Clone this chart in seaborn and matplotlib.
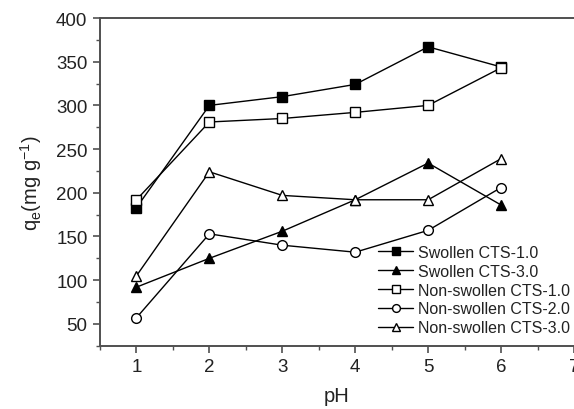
import matplotlib
matplotlib.use("Agg")
import matplotlib.pyplot as plt
import seaborn as sns
import pandas as pd
from matplotlib.ticker import MultipleLocator

sns.set_style("ticks")
plt.rcParams['font.family'] = ['Liberation Sans', 'DejaVu Sans']
plt.rcParams['mathtext.fontset'] = 'custom'
plt.rcParams['mathtext.rm'] = 'Liberation Sans'

ph = [1, 2, 3, 4, 5, 6]
swollen_cts_10 = [183, 300, 310, 324, 367, 344]
swollen_cts_30 = [92, 125, 156, 192, 234, 186]
nonswollen_cts_10 = [192, 281, 285, 292, 300, 343]
nonswollen_cts_20 = [57, 153, 140, 132, 157, 206]
nonswollen_cts_30 = [105, 224, 197, 192, 192, 239]

series_names = ["Swollen CTS-1.0", "Swollen CTS-3.0", "Non-swollen CTS-1.0",
                "Non-swollen CTS-2.0", "Non-swollen CTS-3.0"]
series_values = [swollen_cts_10, swollen_cts_30, nonswollen_cts_10,
                 nonswollen_cts_20, nonswollen_cts_30]
markers = ["s", "^", "s", "o", "^"]
faces = ["black", "black", "white", "white", "white"]
msizes = [6.5, 7.5, 6.5, 7.0, 7.5]

fig = plt.figure(figsize=(5.74, 4.10), dpi=100)
ax = fig.add_axes([100/574, 1-346.7/410, 474/574, (346.7-19)/410])

for name, vals, m, fc, ms in zip(series_names, series_values, markers, faces, msizes):
    df = pd.DataFrame({"pH": ph, "qe": vals})
    sns.lineplot(data=df, x="pH", y="qe", ax=ax, color="black", linewidth=1.0,
                 marker=m, markersize=ms, markerfacecolor=fc,
                 markeredgecolor="black", markeredgewidth=1.0, label=name)

ax.set_xlim(0.5, 7.0)
ax.set_ylim(25, 400)
ax.xaxis.set_major_locator(MultipleLocator(1))
ax.xaxis.set_minor_locator(MultipleLocator(0.5))
ax.yaxis.set_minor_locator(MultipleLocator(25))
ax.set_yticks([50, 100, 150, 200, 250, 300, 350, 400])

spine_col = "#505050"
for s in ["left", "bottom", "top"]:
    ax.spines[s].set_visible(True)
    ax.spines[s].set_color(spine_col)
    ax.spines[s].set_linewidth(1.4)
ax.spines["right"].set_visible(False)
ax.tick_params(which="major", direction="out", length=5, width=1.2, color=spine_col,
               labelsize=13.5, labelcolor="#222222", pad=4)
ax.tick_params(which="minor", direction="out", length=3, width=1.0, color=spine_col)
ax.tick_params(axis="x", top=False, which="both")
for lbl in ax.get_xticklabels():
    lbl.set_clip_on(False)

ax.set_xlabel("pH", fontsize=14.5, color="#222222", labelpad=8)
ax.set_ylabel(r"q$_\mathregular{e}$(mg g$^\mathregular{-1}$)", fontsize=14.5,
              color="#222222", labelpad=9)

leg = ax.legend(loc="upper left", bbox_to_anchor=(378/574, 1-246/410),
                bbox_transform=fig.transFigure, frameon=False, fontsize=11.5,
                borderpad=0, borderaxespad=0, handlelength=2.2, handletextpad=0.3,
                labelspacing=0.24, markerscale=0.8)
for t in leg.get_texts():
    t.set_color("#222222")

fig.savefig("out.png", dpi=100)
